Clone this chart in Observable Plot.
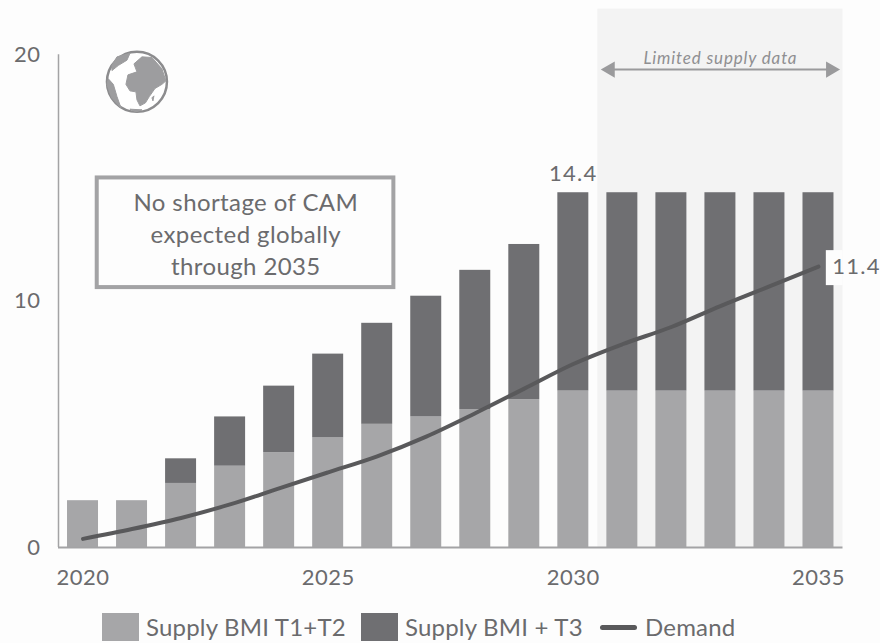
<!DOCTYPE html>
<html><head><meta charset="utf-8">
<script src="https://cdn.jsdelivr.net/npm/d3@7"></script>
<script src="https://cdn.jsdelivr.net/npm/@observablehq/plot@0.6"></script>
<style>
html,body{margin:0;padding:0;background:#fdfdfd;width:880px;height:643px;overflow:hidden}
body{font-family:Lato,sans-serif;color:#6b6b6d}
svg{display:block;overflow:visible}
svg .ls-tick{letter-spacing:.5px}
svg .ls-value{letter-spacing:1.3px}
svg .ls-box{letter-spacing:.4px}
svg .ls-note{letter-spacing:.85px}
#legend{position:relative;height:43px;font-size:24px;letter-spacing:.2px}
#legend span{position:absolute;white-space:nowrap}
#legend .sw{width:37px;height:28px;top:13px}
#legend .tx{top:10px;line-height:34px}
#legend .ln{width:37px;height:5px;top:25px;border-radius:3px;background:#59595b}
</style></head><body>
<div id="chart"></div>
<div id="legend"></div>
<script>
const years = d3.range(2020, 2036);
const supplyT1T2 = [1.9,1.9,2.6,3.3,3.85,4.45,5.0,5.3,5.6,6.0,6.35,6.35,6.35,6.35,6.35,6.35];
const supplyTotal = [1.9,1.9,3.6,5.3,6.55,7.85,9.1,10.2,11.25,12.3,14.4,14.4,14.4,14.4,14.4,14.4];
const demand = [0.35,0.75,1.2,1.75,2.4,3.05,3.7,4.5,5.45,6.45,7.45,8.25,8.95,9.8,10.6,11.4];
const xTicks = [2020,2025,2030,2035];
const yTicks = [0,10,20];
const colors = {light:"#a6a6a8", dark:"#6f6f72", line:"#59595b", text:"#6b6b6d", shade:"#f3f3f3", frame:"#a3a3a5"};
const font = "Lato, sans-serif";
const half = 0.316;
const rows = years.map((year,i)=>({year, base:supplyT1T2[i], total:supplyTotal[i], demand:demand[i]}));

const globe = "data:image/svg+xml," + encodeURIComponent(`<svg xmlns="http://www.w3.org/2000/svg" viewBox="0 0 64 64"><circle cx="32" cy="32" r="30" fill="#fff" stroke="#8c8c8e" stroke-width="2.5"/><path d="M29 14L37 7L47 7.6L57 19L61 31L57 34.5L50 38.6L47 43L44.5 46.5L40.5 53L35 56L32 50L31 42L25 41L21 34.5L23 25L32 22Z M7 15.5L12 7L25 3.5L22 10.3L13.5 15.5L7 20.7Z M3.4 29L8.4 34.5L12 46.6L16 58L6.7 48L2 34.5Z M25 59.3L37 60L31 62Z M47 48L49 46L48 51Z" fill="#9d9d9f" stroke="#9d9d9f" stroke-width="1" stroke-linejoin="round"/></svg>`);

const plot = Plot.plot({
  width: 880, height: 600,
  marginTop: 5, marginBottom: 53, marginLeft: 58, marginRight: 37.5,
  style: {fontFamily: font, fontSize: "22px", background: "transparent", color: colors.text, overflow: "visible"},
  x: {domain: [2019.5, 2035.5], axis: null},
  y: {domain: [0, 22], axis: null},
  marks: [
    Plot.rect([{}], {x1: 2030.5, x2: 2035.5, y1: 0, y2: 21.85, fill: colors.shade}),
    Plot.rectY(rows, {x1: d=>d.year-half, x2: d=>d.year+half, y1: 0, y2: "base", fill: colors.light}),
    Plot.rectY(rows, {x1: d=>d.year-half, x2: d=>d.year+half, y1: "base", y2: "total", fill: colors.dark}),
    Plot.ruleX([2019.5], {y1: 0, y2: 20, stroke: colors.frame, strokeWidth: 1.5}),
    Plot.ruleY([0], {x1: 2019.5, x2: 2035.5, stroke: colors.frame, strokeWidth: 2}),
    Plot.rect([{}], {x1: 2035.16, x2: 2035.5, y1: 10.63, y2: 12.05, fill: "#fdfdfd"}),
    Plot.line(rows, {x: "year", y: "demand", stroke: colors.line, strokeWidth: 4, curve: "monotone-x"}),
    Plot.text(xTicks, {x: d=>d, y: 0, text: d=>String(d), dy: 30, fill: colors.text, fontSize: 22, className: "ls-tick"}),
    Plot.text(yTicks, {x: 2019.5, y: d=>d, text: d=>String(d), textAnchor: "end", dx: -18, fill: colors.text, fontSize: 22, className: "ls-tick"}),
    Plot.text([14.4], {x: 2030, y: d=>d, text: d=>d.toFixed(1), dy: -19, fill: colors.text, fontSize: 22, className: "ls-value"}),
    Plot.text([11.4], {x: 2035.28, y: d=>d, text: d=>d.toFixed(1), textAnchor: "start", fill: colors.text, fontSize: 22, className: "ls-value"}),
    Plot.rect([{}], {x1: 2020.29, x2: 2026.34, y1: 10.55, y2: 15.0, fill: "none", stroke: colors.frame, strokeWidth: 4}),
    Plot.text(["No shortage of CAM\nexpected globally\nthrough 2035"], {x: 2023.32, y: 12.77, text: d=>d, lineHeight: 1.33, fill: colors.text, fontSize: 24, className: "ls-box"}),
    Plot.text(["Limited supply data"], {x: 2033.0, y: 19.85, text: d=>d, fontStyle: "italic", fill: "#8f8f91", fontSize: 17, className: "ls-note"}),
    Plot.ruleY([19.4], {x1: 2030.75, x2: 2035.25, stroke: "#9a9a9c", strokeWidth: 2}),
    Plot.dot([{x:2030.75,r:-90},{x:2035.25,r:90}], {x:"x", y:()=>19.4, symbol:"triangle", rotate:"r", r:6, fill:"#9a9a9c"}),
    Plot.image([{}], {x: 2021.1, y: 18.9, src: ()=>globe, width: 64, height: 64})
  ]
});
document.getElementById("chart").appendChild(plot);

const legendItems = [
  {cls:"sw", left:102, color:colors.light},
  {cls:"tx", left:146, label:"Supply BMI T1+T2"},
  {cls:"sw", left:361, color:colors.dark},
  {cls:"tx", left:405, label:"Supply BMI + T3"},
  {cls:"ln", left:600},
  {cls:"tx", left:645, label:"Demand"}
];
const legend = document.getElementById("legend");
for (const it of legendItems){
  const s = document.createElement("span");
  s.className = it.cls; s.style.left = it.left+"px";
  if (it.color) s.style.background = it.color;
  if (it.label) s.textContent = it.label;
  legend.appendChild(s);
}
</script>
</body></html>
